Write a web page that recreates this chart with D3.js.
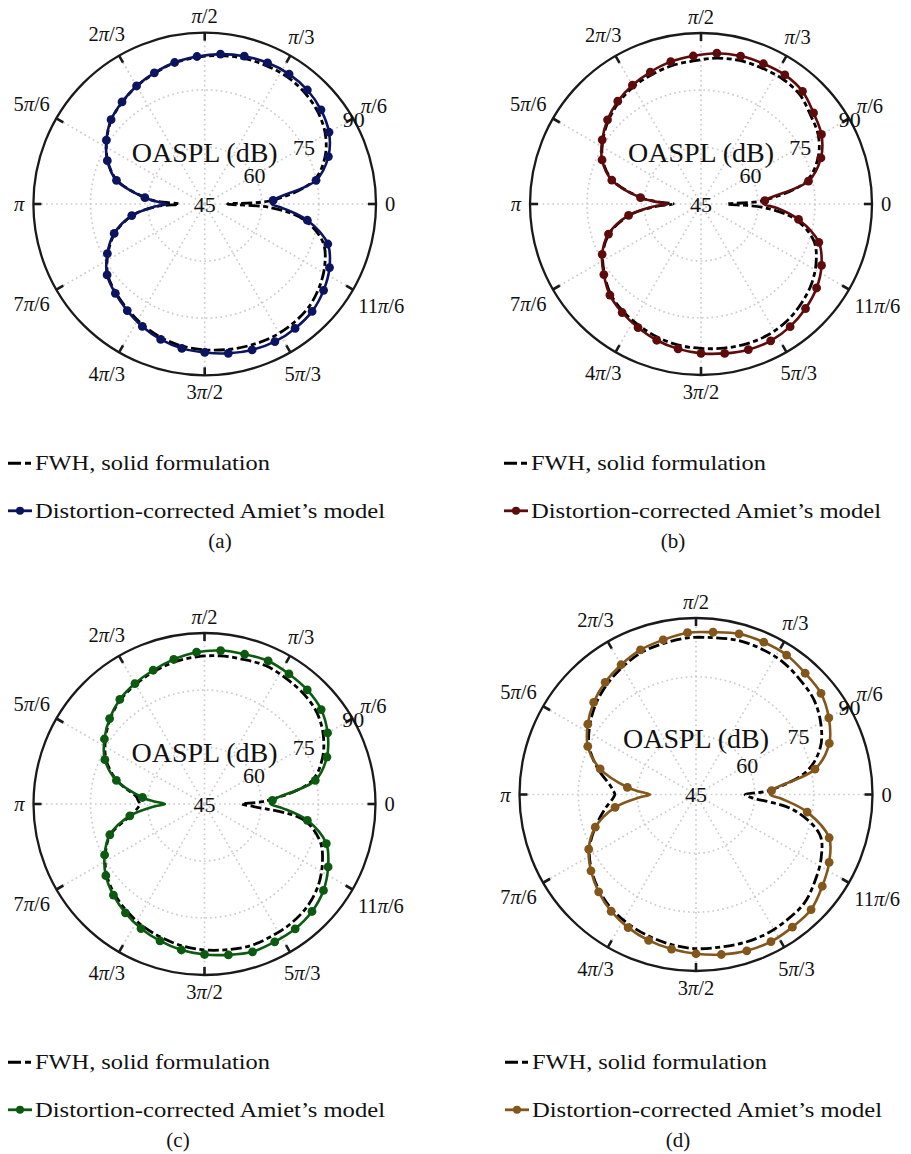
<!DOCTYPE html>
<html>
<head>
<meta charset="utf-8">
<script src="https://cdn.jsdelivr.net/npm/d3@7"></script>
<style>
  body { margin: 0; background: #fff; }
  text { font-family: "Liberation Serif", "Times New Roman", serif; fill: #111; }
</style>
</head>
<body>
<svg id="fig" width="911" height="1154"></svg>
<script>
// Observer angles (degrees, counter-clockwise from the downstream axis)
const angleDeg = [0, 3, 12, 21, 30, 39, 48, 57, 66, 75, 84, 93, 102, 111, 120, 129, 138, 147, 156, 165,
  174, 177, 180, 183, 189, 198, 207, 216, 225, 234, 243, 252, 261, 270, 279, 288, 297, 306, 315, 324,
  333, 342, 351, 357];
// Angles that carry a marker on the model curve
const markerDeg = [3, 12, 21, 30, 39, 48, 57, 66, 75, 84, 93, 102, 111, 120, 129, 138, 147, 156, 165, 174,
  189, 198, 207, 216, 225, 234, 243, 252, 261, 270, 279, 288, 297, 306, 315, 324, 333, 342, 351];

// OASPL (dB) — case (a)
const fwhA = [51.0, 62.5, 74.2, 78.8, 81.6, 83.3, 84.3, 84.8, 84.8, 84.6, 84.2, 83.6, 82.9, 81.8, 80.7, 79.4, 78.0, 75.7, 72.9, 68.8,
  60.6, 57.4, 51.7, 57.8, 64.2, 69.8, 73.5, 76.5, 78.0, 79.3, 80.7, 81.9, 82.8, 83.3, 83.7, 84.0, 84.2, 84.0, 83.5, 82.2,
  80.4, 77.7, 71.4, 62.0];
const amietA = [62.6, 63.0, 74.9, 79.8, 82.7, 84.3, 85.3, 85.7, 85.6, 85.2, 84.6, 83.8, 83.0, 81.9, 80.8, 79.5, 78.1, 75.8, 73.0, 69.0,
  60.8, 57.6, 55.0, 58.1, 64.4, 70.0, 73.7, 76.7, 78.2, 79.6, 81.1, 82.4, 83.4, 84.0, 84.7, 85.3, 85.6, 85.4, 84.9, 83.6,
  81.8, 79.0, 72.3, 65.5];

// OASPL (dB) — case (b)
const fwhB = [51.8, 61.0, 73.2, 77.9, 80.7, 82.1, 83.8, 84.3, 84.2, 84.1, 83.6, 82.7, 82.2, 81.4, 80.6, 79.4, 77.8, 75.8, 73.3, 69.1,
  60.8, 56.5, 52.3, 56.8, 64.1, 70.4, 74.0, 76.4, 78.6, 79.9, 80.9, 81.9, 82.6, 83.0, 83.4, 83.7, 83.7, 83.2, 82.2, 80.9,
  79.0, 76.2, 70.0, 61.0];
const amietB = [61.5, 61.8, 73.9, 78.8, 81.6, 83.1, 84.9, 85.5, 85.4, 85.3, 84.9, 84.0, 83.3, 82.2, 81.1, 79.8, 78.1, 76.0, 73.5, 69.3,
  61.0, 57.0, 53.6, 57.5, 64.3, 70.6, 74.2, 76.6, 78.9, 80.3, 81.5, 82.7, 83.6, 84.3, 84.8, 85.3, 85.4, 84.9, 83.9, 82.6,
  80.6, 77.6, 71.0, 65.0];

// OASPL (dB) — case (c)
const fwhC = [54.8, 61.5, 73.8, 78.2, 81.1, 83.1, 84.0, 84.4, 84.8, 84.4, 84.2, 83.8, 83.2, 82.3, 81.3, 80.2, 78.4, 76.1, 73.3, 68.9,
  63.0, 62.5, 62.0, 62.5, 64.8, 71.0, 74.3, 76.8, 78.5, 79.8, 81.0, 81.9, 82.8, 83.4, 83.8, 84.2, 84.0, 83.8, 83.2, 81.9,
  79.8, 77.0, 71.3, 58.0];
const amietC = [62.4, 62.9, 74.8, 79.5, 82.4, 84.5, 85.4, 85.8, 86.2, 85.8, 85.6, 85.0, 83.9, 82.7, 81.6, 80.4, 78.6, 76.4, 73.7, 69.0,
  61.4, 58.5, 55.4, 58.5, 64.9, 71.2, 74.5, 77.1, 78.9, 80.4, 81.8, 82.9, 83.9, 84.6, 85.2, 85.9, 85.7, 85.6, 85.0, 83.7,
  81.5, 78.7, 72.4, 65.5];

// OASPL (dB) — case (d)
const fwhD = [57.5, 63.5, 74.0, 79.0, 81.7, 83.6, 84.5, 85.4, 85.7, 85.7, 85.2, 85.0, 84.4, 83.8, 82.5, 81.1, 79.4, 77.3, 74.8, 71.0,
  67.0, 66.2, 65.7, 66.3, 68.5, 72.0, 75.5, 77.9, 79.8, 81.3, 82.3, 83.1, 83.8, 84.3, 84.4, 84.7, 84.8, 84.5, 84.1, 82.5,
  80.8, 78.2, 70.2, 59.0];
const amietD = [63.9, 64.3, 76.0, 81.4, 84.1, 86.0, 86.6, 87.4, 87.5, 87.4, 86.6, 86.3, 85.3, 84.5, 83.2, 81.8, 80.1, 77.9, 75.2, 70.3,
  62.6, 59.5, 56.7, 59.5, 65.9, 72.0, 75.7, 78.1, 80.1, 81.8, 83.1, 84.1, 84.9, 85.6, 86.3, 86.9, 87.1, 86.8, 86.5, 84.8,
  83.1, 80.7, 73.7, 67.0];

// Axis ticks and labels
const radialTicks = [45, 60, 75, 90];
const thetaTicks = [0, 30, 60, 90, 120, 150, 180, 210, 240, 270, 300, 330];
const thetaLabels = [["0"], ["", "π", "/6"], ["", "π", "/3"], ["", "π", "/2"], ["2", "π", "/3"], ["5", "π", "/6"],
  ["", "π", ""], ["7", "π", "/6"], ["4", "π", "/3"], ["3", "π", "/2"], ["5", "π", "/3"], ["11", "π", "/6"]];
const axisTitle = "OASPL (dB)";
const seriesNames = ["FWH, solid formulation", "Distortion-corrected Amiet\u2019s model"];
const captions = ["(a)", "(b)", "(c)", "(d)"];

const seriesColors = ["#0c1360", "#5e0b0b", "#0b5a10", "#83561c"];

const panels = [
  { cx: 204.7, cy: 204, R: 171.3, titleDy: 42.5, fwh: fwhA, amiet: amietA, lx: 8,   ly: 463.3, capX: 220, capY: 548 },
  { cx: 701,   cy: 204, R: 171,   titleDy: 42.5, fwh: fwhB, amiet: amietB, lx: 504, ly: 463.3, capX: 673, capY: 548 },
  { cx: 204.5, cy: 804, R: 171,   titleDy: 42.5, fwh: fwhC, amiet: amietC, lx: 8,   ly: 1062.3, capX: 178, capY: 1147 },
  { cx: 696,   cy: 794.5, R: 176.5, titleDy: 46.5, fwh: fwhD, amiet: amietD, lx: 505, ly: 1062.3, capX: 678, capY: 1147 }
];

const svg = d3.select("#fig");
const rad = d => d * Math.PI / 180;

panels.forEach((p, k) => {
  const color = seriesColors[k];
  const r = d3.scaleLinear().domain([45, 90]).range([0, p.R]);
  const g = svg.append("g").attr("transform", `translate(${p.cx},${p.cy})`);

  // dotted grid: rings and spokes
  const grid = g.append("g").attr("fill", "none").attr("stroke", "#cdcdcd")
    .attr("stroke-width", 1.7).attr("stroke-dasharray", "1.7,3.2");
  radialTicks.filter(v => v > 45 && v < 90).forEach(v => {
    grid.append("circle").attr("r", r(v));
  });
  thetaTicks.forEach(t => {
    grid.append("line").attr("x1", 0).attr("y1", 0)
      .attr("x2", p.R * Math.cos(rad(t))).attr("y2", -p.R * Math.sin(rad(t)));
  });

  // outer frame and inward ticks
  g.append("circle").attr("r", p.R).attr("fill", "none").attr("stroke", "#1a1a1a").attr("stroke-width", 2.3);
  thetaTicks.forEach(t => {
    const c = Math.cos(rad(t)), s = Math.sin(rad(t));
    g.append("line").attr("x1", (p.R - 8) * c).attr("y1", -(p.R - 8) * s)
      .attr("x2", p.R * c).attr("y2", -p.R * s)
      .attr("stroke", "#1a1a1a").attr("stroke-width", 2.6);
  });

  // angular tick labels
  thetaTicks.forEach((t, i) => {
    const parts = thetaLabels[i];
    const txt = g.append("text").attr("font-size", 20.5)
      .attr("text-anchor", "middle").attr("dominant-baseline", "central");
    parts.forEach((s, j) => {
      if (!s) return;
      txt.append("tspan").attr("font-style", j === 1 ? "italic" : "normal").text(s);
    });
    const w = txt.node().getComputedTextLength();
    const h = 15;
    const c = Math.cos(rad(t)), s = Math.sin(rad(t));
    const rr = p.R + 9 + Math.abs(c) * w / 2 + Math.abs(s) * h / 2;
    txt.attr("x", rr * c).attr("y", -rr * s);
  });

  // radial tick labels
  radialTicks.forEach(v => {
    const a = rad(29.5);
    g.append("text").attr("font-size", 22)
      .attr("text-anchor", "middle").attr("dominant-baseline", "central")
      .attr("x", r(v) * Math.cos(a)).attr("y", -r(v) * Math.sin(a))
      .text(v);
  });

  // axis title
  g.append("text").attr("font-size", 28).attr("text-anchor", "middle")
    .attr("x", 0).attr("y", -p.titleDy).text(axisTitle);

  // curves
  const lineGen = d3.lineRadial()
    .angle(d => Math.PI / 2 - rad(d.a))
    .radius(d => r(d.v))
    .curve(d3.curveCatmullRomClosed.alpha(0.5));

  const fwhPts = angleDeg.map((a, i) => ({ a, v: p.fwh[i] }));
  const amPts = angleDeg.map((a, i) => ({ a, v: p.amiet[i] }));

  g.append("path").attr("d", lineGen(fwhPts)).attr("fill", "none")
    .attr("stroke", "#000").attr("stroke-width", 2.8).attr("stroke-dasharray", "11,3.5,5,3.5");

  g.append("path").attr("d", lineGen(amPts)).attr("fill", "none")
    .attr("stroke", color).attr("stroke-width", 2.6).attr("stroke-linejoin", "round");

  g.append("g").selectAll("circle")
    .data(amPts.filter(d => markerDeg.includes(d.a)))
    .join("circle")
    .attr("cx", d => r(d.v) * Math.cos(rad(d.a)))
    .attr("cy", d => -r(d.v) * Math.sin(rad(d.a)))
    .attr("r", 4.4).attr("fill", color);

  // legend
  const lg = svg.append("g");
  lg.append("line").attr("x1", p.lx).attr("x2", p.lx + 23).attr("y1", p.ly).attr("y2", p.ly)
    .attr("stroke", "#000").attr("stroke-width", 3).attr("stroke-dasharray", "13,4,6,40");
  lg.append("text").attr("x", p.lx + 27).attr("y", p.ly + 7).attr("font-size", 21.5)
    .attr("textLength", 235).attr("lengthAdjust", "spacingAndGlyphs").text(seriesNames[0]);
  const y2 = p.ly + 47.5;
  lg.append("line").attr("x1", p.lx).attr("x2", p.lx + 24).attr("y1", y2).attr("y2", y2)
    .attr("stroke", color).attr("stroke-width", 2.8);
  lg.append("circle").attr("cx", p.lx + 12).attr("cy", y2).attr("r", 4).attr("fill", color);
  lg.append("text").attr("x", p.lx + 27).attr("y", y2 + 7.5).attr("font-size", 21.5)
    .attr("textLength", 350).attr("lengthAdjust", "spacingAndGlyphs").text(seriesNames[1]);
  lg.append("text").attr("x", p.capX).attr("y", p.capY).attr("font-size", 21)
    .attr("text-anchor", "middle").text(captions[k]);
});
</script>
</body>
</html>
